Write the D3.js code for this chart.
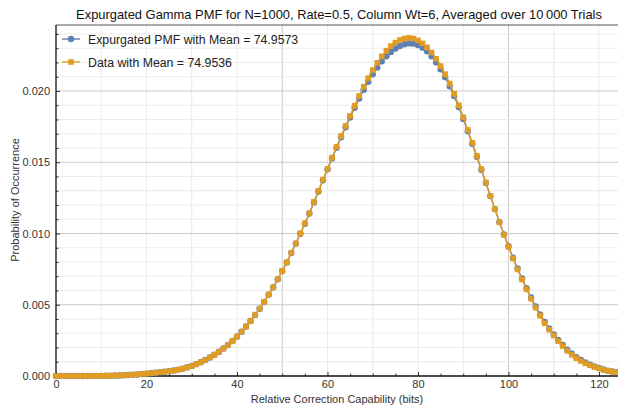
<!DOCTYPE html>
<html>
<head>
<meta charset="utf-8">
<script src="https://cdn.jsdelivr.net/npm/d3@7"></script>
<style>
  body { margin: 0; background: #fff; }
  text { font-family: "Liberation Sans", Arial, sans-serif; }
</style>
</head>
<body>
<div id="chart"></div>
<script>
// data
var bits = d3.range(0, 125);   // x categories 0..124

var expurgated = [
  0.00000, 0.00000, 0.00000, 0.00000, 0.00000, 0.00000, 0.00000, 0.00000, 0.00001, 0.00001,
  0.00001, 0.00002, 0.00002, 0.00003, 0.00004, 0.00005, 0.00007, 0.00009, 0.00011, 0.00014,
  0.00017, 0.00020, 0.00023, 0.00027, 0.00030, 0.00034, 0.00039, 0.00045, 0.00052, 0.00061,
  0.00071, 0.00083, 0.00097, 0.00112, 0.00130, 0.00149, 0.00170, 0.00193, 0.00218, 0.00246,
  0.00277, 0.00311, 0.00347, 0.00386, 0.00428, 0.00472, 0.00520, 0.00571, 0.00622, 0.00679,
  0.00737, 0.00797, 0.00863, 0.00929, 0.00998, 0.01068, 0.01140, 0.01218, 0.01295, 0.01374,
  0.01450, 0.01527, 0.01601, 0.01675, 0.01745, 0.01814, 0.01882, 0.01947, 0.02008, 0.02065,
  0.02117, 0.02165, 0.02208, 0.02244, 0.02274, 0.02298, 0.02316, 0.02328, 0.02334, 0.02332,
  0.02322, 0.02304, 0.02278, 0.02244, 0.02202, 0.02153, 0.02097, 0.02034, 0.01964, 0.01887,
  0.01804, 0.01718, 0.01629, 0.01539, 0.01447, 0.01355, 0.01263, 0.01171, 0.01080, 0.00994,
  0.00910, 0.00830, 0.00754, 0.00684, 0.00616, 0.00551, 0.00488, 0.00432, 0.00380, 0.00334,
  0.00292, 0.00253, 0.00218, 0.00185, 0.00156, 0.00132, 0.00112, 0.00095, 0.00080, 0.00067,
  0.00056, 0.00046, 0.00038, 0.00032, 0.00027
];

var observed = [
  0.00000, 0.00000, 0.00000, 0.00000, 0.00000, 0.00000, 0.00000, 0.00000, 0.00001, 0.00001,
  0.00001, 0.00002, 0.00002, 0.00003, 0.00004, 0.00005, 0.00007, 0.00009, 0.00011, 0.00014,
  0.00017, 0.00020, 0.00023, 0.00027, 0.00030, 0.00034, 0.00038, 0.00044, 0.00051, 0.00060,
  0.00070, 0.00083, 0.00097, 0.00112, 0.00130, 0.00148, 0.00170, 0.00193, 0.00217, 0.00245,
  0.00276, 0.00311, 0.00347, 0.00386, 0.00428, 0.00472, 0.00520, 0.00572, 0.00622, 0.00680,
  0.00738, 0.00798, 0.00865, 0.00931, 0.01001, 0.01071, 0.01143, 0.01222, 0.01299, 0.01378,
  0.01454, 0.01533, 0.01608, 0.01684, 0.01755, 0.01826, 0.01897, 0.01965, 0.02030, 0.02090,
  0.02147, 0.02198, 0.02243, 0.02283, 0.02315, 0.02340, 0.02358, 0.02368, 0.02372, 0.02368,
  0.02355, 0.02334, 0.02306, 0.02270, 0.02226, 0.02175, 0.02118, 0.02052, 0.01980, 0.01900,
  0.01815, 0.01727, 0.01637, 0.01545, 0.01452, 0.01358, 0.01264, 0.01170, 0.01078, 0.00990,
  0.00906, 0.00825, 0.00748, 0.00677, 0.00608, 0.00542, 0.00478, 0.00422, 0.00370, 0.00325,
  0.00284, 0.00244, 0.00210, 0.00176, 0.00148, 0.00125, 0.00105, 0.00089, 0.00075, 0.00063,
  0.00053, 0.00043, 0.00036, 0.00030, 0.00026
];

var xTicks = [0, 20, 40, 60, 80, 100, 120];
var yTicks = [0, 0.005, 0.010, 0.015, 0.020];
var legendLabels = ["Expurgated PMF with Mean = 74.9573", "Data with Mean = 74.9536"];

// layout
var width = 618, height = 408;
var plotLeft = 56, plotTop = 25, plotBottom = 376, plotRight = 618;
var blue = "#5e81b5", orange = "#e19c24";

var svg = d3.select("#chart").append("svg")
  .attr("width", width)
  .attr("height", height);

var x = d3.scaleLinear().domain([0, 124.2]).range([plotLeft, plotRight]);
var y = d3.scaleLinear().domain([0, 0.02463]).range([plotBottom, plotTop]);

// grid lines
var xGrid = d3.range(10, 125, 10);
var yGrid = d3.range(1, 25).map(function(i) { return i / 1000; });

svg.append("g").selectAll("line")
  .data(xGrid)
  .enter().append("line")
    .attr("x1", function(d) { return x(d); })
    .attr("x2", function(d) { return x(d); })
    .attr("y1", plotTop)
    .attr("y2", plotBottom)
    .attr("stroke", function(d) { return d % 50 == 0 ? "#c9c9c9" : "#ebebeb"; })
    .attr("stroke-width", 1);

svg.append("g").selectAll("line")
  .data(yGrid)
  .enter().append("line")
    .attr("x1", plotLeft)
    .attr("x2", plotRight)
    .attr("y1", function(d) { return y(d); })
    .attr("y2", function(d) { return y(d); })
    .attr("stroke", function(d) { return Math.round(d * 1000) % 5 == 0 ? "#c9c9c9" : "#ebebeb"; })
    .attr("stroke-width", 1);

// axes (ticks point inward like the frame in the original)
var xAxis = svg.append("g")
  .attr("transform", "translate(0," + plotBottom + ")")
  .call(d3.axisBottom(x).tickValues(xTicks).tickSize(-4).tickPadding(4).tickFormat(d3.format("d")));

var xMinor = svg.append("g")
  .attr("transform", "translate(0," + plotBottom + ")")
  .call(d3.axisBottom(x).tickValues(d3.range(5, 125, 10).concat([10, 30, 50, 70, 90, 110])).tickSize(-2.5).tickFormat(""));

var yAxis = svg.append("g")
  .attr("transform", "translate(" + plotLeft + ",0)")
  .call(d3.axisLeft(y).tickValues(yTicks).tickSize(-4).tickPadding(6).tickFormat(d3.format(".3f")));

var yMinor = svg.append("g")
  .attr("transform", "translate(" + plotLeft + ",0)")
  .call(d3.axisLeft(y).tickValues(yGrid.filter(function(d) { return Math.round(d * 1000) % 5 != 0; })).tickSize(-2.5).tickFormat(""));

[xAxis, xMinor, yAxis, yMinor].forEach(function(g) {
  g.select(".domain").remove();
  g.selectAll("line").attr("stroke", "#333");
  g.selectAll("text").attr("fill", "#333").style("font-size", "11px");
});

// frame
svg.append("line").attr("x1", plotLeft).attr("x2", plotRight).attr("y1", plotTop).attr("y2", plotTop)
  .attr("stroke", "#555").attr("stroke-width", 1.2);
svg.append("line").attr("x1", plotLeft).attr("x2", plotRight).attr("y1", plotBottom).attr("y2", plotBottom)
  .attr("stroke", "#111").attr("stroke-width", 1.3);
svg.append("line").attr("x1", plotLeft).attr("x2", plotLeft).attr("y1", plotTop).attr("y2", plotBottom)
  .attr("stroke", "#111").attr("stroke-width", 1.3);

// series
var line = d3.line()
  .x(function(d) { return x(d[0]); })
  .y(function(d) { return y(d[1]); });

var blueData = bits.map(function(b, i) { return [b, expurgated[i]]; });
var orangeData = bits.map(function(b, i) { return [b, observed[i]]; });

svg.append("path")
  .datum(blueData)
  .attr("fill", "none")
  .attr("stroke", blue)
  .attr("stroke-width", 1.4)
  .attr("d", line);

svg.append("g").selectAll("circle")
  .data(blueData)
  .enter().append("circle")
    .attr("cx", function(d) { return x(d[0]); })
    .attr("cy", function(d) { return y(d[1]); })
    .attr("r", 3.2)
    .attr("fill", blue);

svg.append("path")
  .datum(orangeData)
  .attr("fill", "none")
  .attr("stroke", orange)
  .attr("stroke-width", 1.4)
  .attr("d", line);

svg.append("g").selectAll("rect")
  .data(orangeData)
  .enter().append("rect")
    .attr("x", function(d) { return x(d[0]) - 2.8; })
    .attr("y", function(d) { return y(d[1]) - 2.8; })
    .attr("width", 5.6)
    .attr("height", 5.6)
    .attr("fill", orange);

// legend
var legend = svg.append("g").attr("transform", "translate(62,39)");
legendLabels.forEach(function(label, i) {
  var g = legend.append("g").attr("transform", "translate(0," + (i * 23) + ")");
  var c = i == 0 ? blue : orange;
  g.append("line").attr("x1", 0).attr("x2", 18).attr("y1", 0).attr("y2", 0)
    .attr("stroke", c).attr("stroke-width", 1.4);
  if (i == 0) {
    g.append("circle").attr("cx", 9).attr("cy", 0).attr("r", 3.2).attr("fill", c);
  } else {
    g.append("rect").attr("x", 6.2).attr("y", -2.8).attr("width", 5.6).attr("height", 5.6).attr("fill", c);
  }
  g.append("text")
    .attr("x", 26)
    .attr("y", 4.5)
    .style("font-size", "12.3px")
    .attr("fill", "#222")
    .text(label);
});

// title and axis labels
svg.append("text")
  .attr("x", 339)
  .attr("y", 19)
  .attr("text-anchor", "middle")
  .style("font-size", "12.9px")
  .attr("fill", "#111")
  .text("Expurgated Gamma PMF for N=1000, Rate=0.5, Column Wt=6, Averaged over 10\u2009000 Trials");

svg.append("text")
  .attr("x", 337)
  .attr("y", 403)
  .attr("text-anchor", "middle")
  .style("font-size", "11px")
  .attr("fill", "#333")
  .text("Relative Correction Capability (bits)");

svg.append("text")
  .attr("transform", "translate(19,200) rotate(-90)")
  .attr("text-anchor", "middle")
  .style("font-size", "11px")
  .attr("fill", "#333")
  .text("Probability of Occurrence");
</script>
</body>
</html>
